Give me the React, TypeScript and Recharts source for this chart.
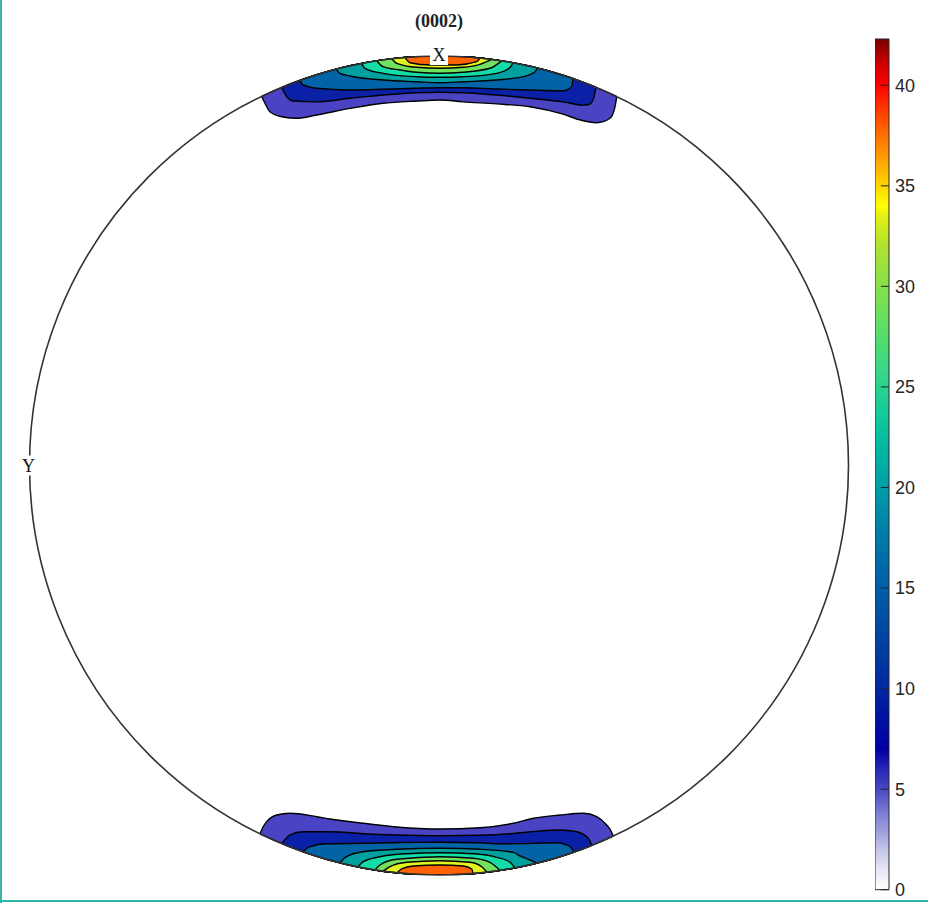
import {
  ComposedChart, Area, XAxis, YAxis, ReferenceDot, ReferenceLine, ReferenceArea,
} from 'recharts'

type Pt = [number, number]

// ── Contour data (unit disk coordinates: u across, v up) ──────────────────────
// each band: the contour line, rim to rim; the band fills up to the circle edge
const BAND_FILLS = ['#4a44c4', '#0a20a6', '#0064a6', '#00a0a0', '#14dca6', '#72e25e', '#e4f21e', '#ff6200']

const TOP_1: Pt[] = [[-0.433, 0.901], [-0.425, 0.8845], [-0.413, 0.864], [-0.381, 0.851], [-0.3475, 0.848], [-0.299, 0.856], [-0.2173, 0.872], [-0.1368, 0.8845], [-0.0545, 0.89], [0.0024, 0.8925], [0.0586, 0.888], [0.1409, 0.883], [0.2222, 0.876], [0.3028, 0.858], [0.3443, 0.844], [0.3851, 0.837], [0.4176, 0.848], [0.4298, 0.876], [0.434, 0.901]]
const TOP_2: Pt[] = [[-0.384, 0.923], [-0.372, 0.9006], [-0.3565, 0.89], [-0.2987, 0.888], [-0.2173, 0.8967], [-0.1368, 0.9048], [-0.0545, 0.9104], [0.0024, 0.9114], [0.0586, 0.9104], [0.1409, 0.9048], [0.2222, 0.8967], [0.3028, 0.888], [0.3516, 0.88], [0.3687, 0.8828], [0.3785, 0.9], [0.383, 0.9237]]
const TOP_3: Pt[] = [[-0.3394, 0.9406], [-0.332, 0.9292], [-0.2987, 0.9211], [-0.2173, 0.917], [-0.1368, 0.9187], [-0.0545, 0.9211], [0.0024, 0.9226], [0.0586, 0.9226], [0.1409, 0.9194], [0.2222, 0.917], [0.3028, 0.9153], [0.324, 0.925], [0.3272, 0.945]]
const TOP_4: Pt[] = [[-0.2515, 0.9679], [-0.2418, 0.9577], [-0.2173, 0.9512], [-0.1368, 0.9414], [-0.0545, 0.9372], [0.0024, 0.9348], [0.0586, 0.9372], [0.1409, 0.9414], [0.2051, 0.9495], [0.2344, 0.9617], [0.2405, 0.9706]]
const TOP_5: Pt[] = [[-0.1888, 0.982], [-0.1807, 0.97], [-0.1368, 0.9577], [-0.0545, 0.9495], [0.0024, 0.948], [0.0586, 0.9495], [0.1409, 0.9577], [0.1709, 0.97], [0.1807, 0.9835]]
const TOP_6: Pt[] = [[-0.1521, 0.9884], [-0.1368, 0.9739], [-0.0952, 0.9658], [-0.0545, 0.9602], [0.0024, 0.9577], [0.0586, 0.9602], [0.1245, 0.97], [0.1531, 0.9882]]
const TOP_7: Pt[] = [[-0.1155, 0.9933], [-0.1033, 0.9822], [-0.0545, 0.9724], [0.0024, 0.97], [0.0586, 0.9724], [0.1001, 0.9797], [0.1287, 0.9917]]
const TOP_8: Pt[] = [[-0.083, 0.9965], [-0.0708, 0.9836], [-0.022, 0.978], [0.0432, 0.978], [0.0921, 0.9861], [0.1001, 0.995]]

const BOTTOM_1: Pt[] = [[-0.4371, -0.8994], [-0.4298, -0.8828], [-0.4208, -0.8698], [-0.3963, -0.8535], [-0.3639, -0.8493], [-0.2987, -0.8576], [-0.2662, -0.8632], [-0.1849, -0.8737], [-0.1033, -0.8828], [0.0024, -0.8877], [0.1001, -0.8845], [0.1814, -0.8737], [0.2303, -0.8615], [0.2955, -0.8535], [0.3524, -0.8493], [0.3851, -0.8576], [0.4095, -0.8779], [0.4188, -0.8901], [0.4256, -0.9049]]
const BOTTOM_2: Pt[] = [[-0.3841, -0.9233], [-0.3761, -0.9133], [-0.3639, -0.9023], [-0.3321, -0.8943], [-0.2662, -0.8943], [-0.1849, -0.8992], [-0.1033, -0.9023], [0.0024, -0.904], [0.1001, -0.9031], [0.1814, -0.8987], [0.2303, -0.8938], [0.2955, -0.8901], [0.3363, -0.8943], [0.3607, -0.9065], [0.3675, -0.9145], [0.3729, -0.9279]]
const BOTTOM_3: Pt[] = [[-0.3321, -0.9432], [-0.3248, -0.9365], [-0.315, -0.9309], [-0.2742, -0.9238], [-0.1849, -0.9226], [-0.0952, -0.9206], [0.0024, -0.9201], [0.1001, -0.9214], [0.149, -0.9238], [0.2303, -0.9226], [0.2874, -0.9211], [0.3118, -0.9267], [0.3223, -0.9328], [0.3297, -0.9441]]
const BOTTOM_4: Pt[] = [[-0.2418, -0.9703], [-0.232, -0.9597], [-0.2173, -0.9512], [-0.1849, -0.9431], [-0.1033, -0.9372], [0.0024, -0.9348], [0.1001, -0.9372], [0.1814, -0.9446], [0.1978, -0.9536], [0.2222, -0.9634], [0.2393, -0.971]]
const BOTTOM_5: Pt[] = [[-0.1978, -0.9802], [-0.1849, -0.9675], [-0.1441, -0.9553], [-0.0789, -0.948], [0.0024, -0.9455], [0.0838, -0.948], [0.1409, -0.9568], [0.1734, -0.969], [0.1856, -0.9826]]
const BOTTOM_6: Pt[] = [[-0.1563, -0.9877], [-0.1441, -0.9756], [-0.1033, -0.9617], [0.0024, -0.9553], [0.0838, -0.9592], [0.1245, -0.969], [0.149, -0.9888]]
const BOTTOM_7: Pt[] = [[-0.1368, -0.9906], [-0.1197, -0.9797], [-0.0789, -0.969], [0.0024, -0.9651], [0.0757, -0.969], [0.1043, -0.9797], [0.1172, -0.9931]]
const BOTTOM_8: Pt[] = [[-0.1026, -0.9947], [-0.0911, -0.9853], [-0.0628, -0.978], [0.0024, -0.9756], [0.0593, -0.978], [0.0799, -0.9853], [0.083, -0.9965]]

const TOP_BANDS = [TOP_1, TOP_2, TOP_3, TOP_4, TOP_5, TOP_6, TOP_7, TOP_8]
const BOTTOM_BANDS = [BOTTOM_1, BOTTOM_2, BOTTOM_3, BOTTOM_4, BOTTOM_5, BOTTOM_6, BOTTOM_7, BOTTOM_8]

// ── Colour bar ────────────────────────────────────────────────────────────────
const CBAR_MAX = 42.3
const CBAR_TICKS = [0, 5, 10, 15, 20, 25, 30, 35, 40]
const CBAR_STOPS: [number, string][] = [
  [0, '#ffffff'], [1, '#e6e6f5'], [2, '#c4c4ea'], [3, '#9c9cdc'], [4, '#7474d0'],
  [5, '#4848c2'], [6, '#2626b6'], [7, '#0000a4'], [8, '#000ca2'], [10, '#0026a0'],
  [12, '#003ea0'], [14, '#0054a4'], [16, '#0068a8'], [18, '#0080a8'], [20, '#009ea6'],
  [22, '#00b8a2'], [24, '#18cc98'], [26, '#3cd884'], [28, '#5ede66'], [30, '#86e04a'],
  [32, '#b0e230'], [33.5, '#e2f012'], [34, '#ffff00'], [35, '#ffd600'], [36, '#ffae00'],
  [37, '#ff8400'], [38, '#ff5c00'], [39, '#ff3000'], [40, '#ff0000'], [41, '#d20000'],
  [42.3, '#7a0000'],
]
const CBAR_DATA = [{ x: 0, lo: 0, hi: CBAR_MAX }, { x: 1, lo: 0, hi: CBAR_MAX }]

const PLOT = 819
const rim = (u: number) => Math.sqrt(Math.max(0, 1 - u * u))

function RimLabel({ viewBox, text, dx = 0, dy = 0 }: any) {
  if (!viewBox) return null
  const cx = viewBox.x + (viewBox.width ?? 0) / 2 + dx
  const cy = viewBox.y + (viewBox.height ?? 0) / 2 + dy
  return (
    <g>
      <rect x={cx - 9} y={cy - 10} width={18} height={20} fill="#fff" />
      <text x={cx} y={cy + 6} textAnchor="middle" fontFamily="'Liberation Serif', serif" fontSize={18} fill="#111">
        {text}
      </text>
    </g>
  )
}

export default function App() {
  return (
    <div style={{ position: 'absolute', left: 0, top: 0, width: 928, height: 903, background: '#fff' }}>
      <div style={{ position: 'absolute', left: 0, top: 0, width: 2, height: 903, background: '#3cb6a6' }} />
      <div style={{ position: 'absolute', left: 0, top: 900, width: 928, height: 2, background: '#2cb4a4' }} />

      <div style={{
        position: 'absolute', left: 0, top: 11, width: 878, textAlign: 'center',
        fontFamily: "'Liberation Serif', serif", fontWeight: 'bold', fontSize: 18, color: '#222',
      }}>
        (0002)
      </div>

      <div style={{ position: 'absolute', left: 0, top: 0 }}>
        <ComposedChart width={928} height={903} margin={{ top: 56, left: 29.5, right: 79.5, bottom: 28 }}>
          <XAxis type="number" dataKey="u" domain={[-1, 1]} hide allowDataOverflow />
          <YAxis type="number" domain={[-1, 1]} hide allowDataOverflow />

          {TOP_BANDS.map((band, i) => (
            <Area
              key={`top-${i}`}
              data={band.map(([u, v]) => ({ u, v }))}
              dataKey={(d: { u: number; v: number }) => [d.v, rim(d.u)]}
              type="monotone"
              fill={BAND_FILLS[i]}
              fillOpacity={1}
              stroke="#000"
              strokeWidth={1.4}
              dot={false}
              activeDot={false}
              isAnimationActive={false}
            />
          ))}
          {BOTTOM_BANDS.map((band, i) => (
            <Area
              key={`bottom-${i}`}
              data={band.map(([u, v]) => ({ u, v }))}
              dataKey={(d: { u: number; v: number }) => [-rim(d.u), d.v]}
              type="monotone"
              fill={BAND_FILLS[i]}
              fillOpacity={1}
              stroke="#000"
              strokeWidth={1.4}
              dot={false}
              activeDot={false}
              isAnimationActive={false}
            />
          ))}

          <ReferenceDot x={0} y={0} r={PLOT / 2} fill="none" stroke="#333" strokeWidth={1.6} ifOverflow="visible" />
          <ReferenceDot x={0} y={1} r={0} fill="none" stroke="none" ifOverflow="visible"
            label={<RimLabel text="X" dy={-1} />} />
          <ReferenceDot x={-1} y={0} r={0} fill="none" stroke="none" ifOverflow="visible"
            label={<RimLabel text="Y" dx={-1} />} />
        </ComposedChart>
      </div>

      <div style={{ position: 'absolute', left: 875, top: 27.3 }}>
        <ComposedChart width={59} height={874.7} data={CBAR_DATA} margin={{ top: 12, bottom: 12, left: 0, right: 0 }}>
          <defs>
            <linearGradient id="cbar" x1="0" y1="1" x2="0" y2="0">
              {CBAR_STOPS.map(([v, c]) => (
                <stop key={v} offset={`${(v / CBAR_MAX) * 100}%`} stopColor={c} />
              ))}
            </linearGradient>
          </defs>
          <XAxis type="number" dataKey="x" domain={[0, 1]} hide />
          <YAxis
            orientation="right"
            type="number"
            domain={[0, CBAR_MAX]}
            ticks={CBAR_TICKS}
            width={45}
            axisLine={false}
            tickLine={false}
            tickSize={0}
            tickMargin={6}
            interval={0}
            tick={{ fill: '#262626', fontSize: 18, fontFamily: "'Liberation Sans', Arial, sans-serif" }}
          />
          <Area
            dataKey={(d: { lo: number; hi: number }) => [d.lo, d.hi]}
            type="linear"
            fill="url(#cbar)"
            fillOpacity={1}
            stroke="none"
            dot={false}
            activeDot={false}
            isAnimationActive={false}
          />
          {CBAR_TICKS.map(t => (
            <ReferenceLine key={t} segment={[{ x: 0.42, y: t }, { x: 1, y: t }]} stroke="#262626" strokeWidth={1} />
          ))}
          <ReferenceArea x1={0} x2={1} y1={0} y2={CBAR_MAX} fill="none" fillOpacity={0} stroke="#262626" strokeWidth={1} ifOverflow="visible" />
        </ComposedChart>
      </div>
    </div>
  )
}
